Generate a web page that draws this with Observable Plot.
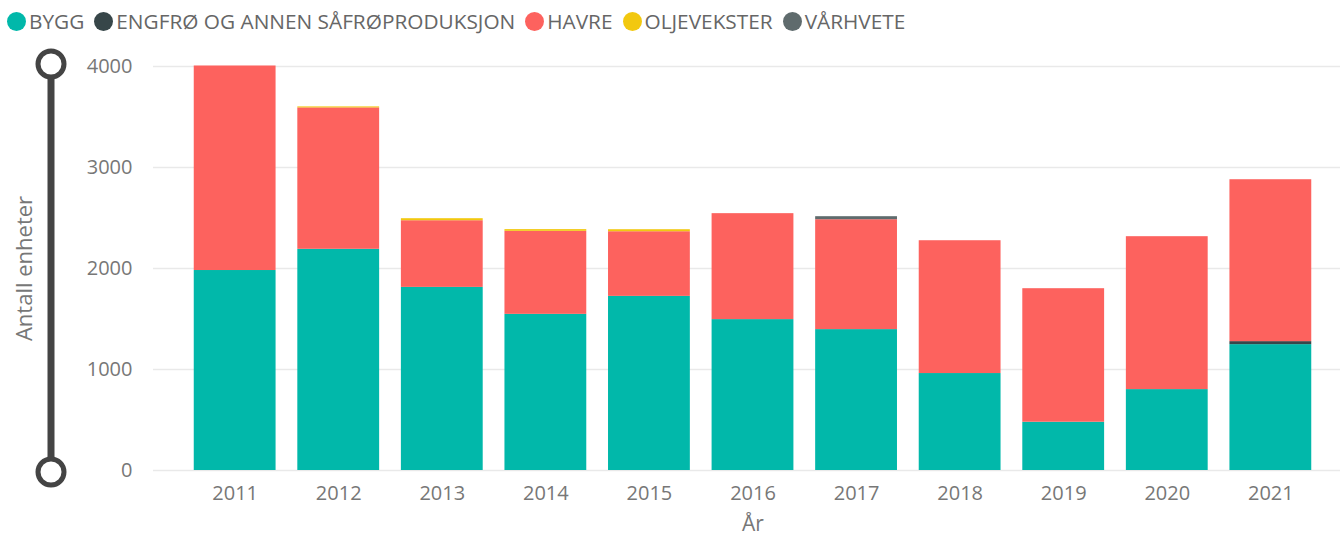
<!DOCTYPE html>
<html>
<head>
<meta charset="utf-8">
<script src="https://cdn.jsdelivr.net/npm/d3@7"></script>
<script src="https://cdn.jsdelivr.net/npm/@observablehq/plot@0.6"></script>
<style>
  html, body { margin: 0; padding: 0; background: #fff; }
  body { width: 1340px; height: 536px; overflow: hidden; font-family: "Open Sans", sans-serif; }
  #legend { height: 40px; display: flex; align-items: center; padding-left: 7px; padding-top: 2px; box-sizing: border-box; }
  .item { display: flex; align-items: center; margin-right: 10px; font-size: 20.8px; color: #666; white-space: nowrap; }
  .sw { width: 19px; height: 19px; border-radius: 50%; margin-right: 3px; display: inline-block; }
</style>
</head>
<body>
<div id="legend"></div>
<div id="chart"></div>
<script>
const years = ["2011","2012","2013","2014","2015","2016","2017","2018","2019","2020","2021"];
const seriesNames = ["BYGG", "ENGFRØ OG ANNEN SÅFRØPRODUKSJON", "HAVRE", "OLJEVEKSTER", "VÅRHVETE"];
const seriesColors = ["#01B8AA", "#374649", "#FD625E", "#F2C80F", "#5F6B6D"];
const bygg     = [1980, 2190, 1813, 1546, 1724, 1494, 1395, 960, 478, 801, 1246];
const engfro   = [0, 0, 0, 0, 0, 0, 0, 0, 0, 0, 30];
const havre    = [2025, 1400, 660, 822, 640, 1049, 1088, 1315, 1322, 1514, 1603];
const olje     = [0, 10, 20, 17, 20, 0, 0, 0, 0, 0, 0];
const varhvete = [0, 0, 0, 0, 0, 0, 30, 0, 0, 0, 0];
const yTicks = [0, 1000, 2000, 3000, 4000];
const xLabel = "År";
const yLabel = "Antall enheter";

const seriesValues = [bygg, engfro, havre, olje, varhvete];
const data = [];
seriesNames.forEach((s, i) => years.forEach((y, j) => data.push({year: y, series: s, value: seriesValues[i][j]})));

// legend
const legend = document.getElementById("legend");
seriesNames.forEach((s, i) => {
  const it = document.createElement("div");
  it.className = "item";
  const sw = document.createElement("span");
  sw.className = "sw";
  sw.style.background = seriesColors[i];
  it.appendChild(sw);
  it.appendChild(document.createTextNode(s));
  legend.appendChild(it);
});

const width = 1340, height = 496;
const marginLeft = 172, marginRight = 7, marginTop = 26, marginBottom = 66;

const plot = Plot.plot({
  width, height, marginLeft, marginRight, marginTop, marginBottom,
  style: {fontFamily: "Open Sans, sans-serif", fontSize: "20px", color: "#777", background: "#fff"},
  x: {domain: years, paddingInner: 0.21, paddingOuter: 0.21, round: false, label: null},
  y: {domain: [0, 4000], label: null},
  color: {domain: seriesNames, range: seriesColors},
  marks: [
    Plot.ruleY(yTicks, {stroke: "#e9e9e9", strokeWidth: 1.5, insetLeft: -19, insetRight: -7}),
    Plot.barY(data, Plot.stackY({order: seriesNames}, {x: "year", y: "value", fill: "series", z: "series"})),
    Plot.axisY({ticks: yTicks, tickSize: 0, tickPadding: 40, tickFormat: d => String(d), fill: "#777", fontSize: 20, label: null}),
    Plot.axisX({tickSize: 0, tickPadding: 15, fill: "#777", fontSize: 20, label: null}),
    Plot.text([xLabel], {frameAnchor: "bottom", dy: 60, text: d => d, fill: "#777", fontSize: 21}),
    Plot.text([yLabel], {frameAnchor: "left", textAnchor: "middle", dx: -148, rotate: -90, text: d => d, fill: "#777", fontSize: 22})
  ]
});
document.getElementById("chart").appendChild(plot);

// zoom-slider decoration (Power BI style)
const ys = plot.scale("y");
const svg = d3.select(plot);
const sx = 51;
const yTop = ys.apply(4000) - 2, yBot = ys.apply(0) + 2;
svg.append("line").attr("x1", sx).attr("x2", sx).attr("y1", yTop).attr("y2", yBot)
  .attr("stroke", "#444").attr("stroke-width", 7);
[yTop, yBot].forEach(cy => svg.append("circle").attr("cx", sx).attr("cy", cy).attr("r", 13)
  .attr("fill", "#fff").attr("stroke", "#444").attr("stroke-width", 5));
</script>
</body>
</html>
